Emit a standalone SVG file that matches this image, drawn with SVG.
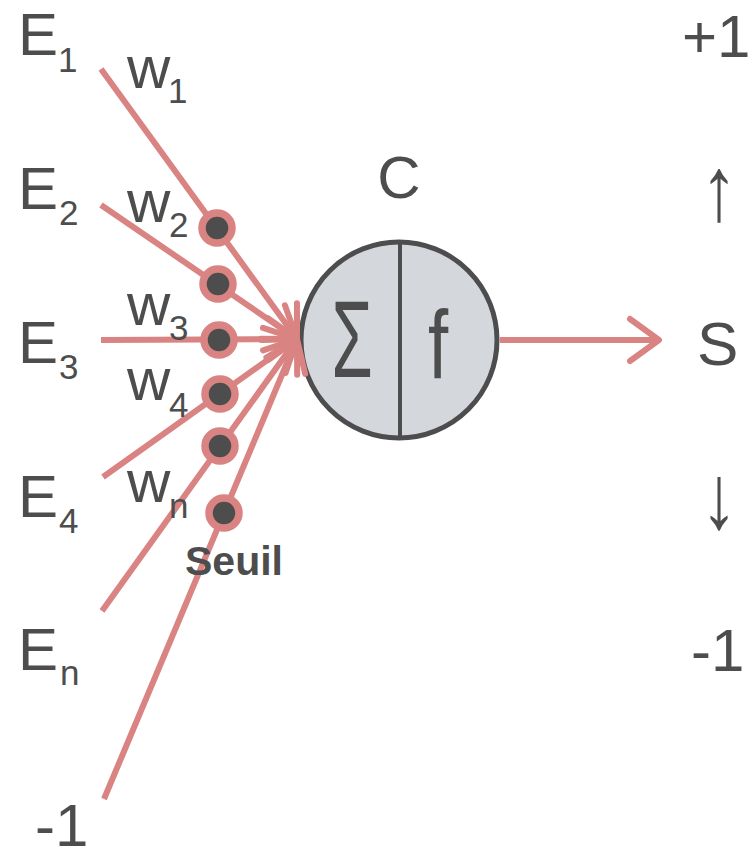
<svg xmlns="http://www.w3.org/2000/svg" width="752" height="851" viewBox="0 0 752 851">
<style>
.t{font-family:"Liberation Sans",Arial,"DejaVu Sans",sans-serif;fill:#4d4d4d}
.big{font-size:60px}
.sub{font-size:35px}
.w{font-size:60px}
.wl{stroke:#d98383;stroke-width:6;fill:none}
.dot{fill:#4d4d4d;stroke:#d98383;stroke-width:7.5}
</style>
<defs>
<marker id="ah" markerUnits="userSpaceOnUse" viewBox="-40 -30 50 60" markerWidth="50" markerHeight="60" refX="0" refY="0" orient="auto">
<path d="M-29,-21 L0,0 L-29,21" fill="none" stroke="#d98383" stroke-width="6" stroke-linecap="round" stroke-linejoin="round"/>
</marker>
</defs>
<rect width="752" height="851" fill="#ffffff"/>

<g id="node-C">
<circle cx="399" cy="340" r="98" fill="#d4d7dc" stroke="#4d4d4d" stroke-width="5"/>
<line x1="400" y1="242" x2="400" y2="438" stroke="#4d4d4d" stroke-width="4"/>
<text class="t" font-size="98" text-anchor="middle" transform="translate(352,377) scale(0.68,1.12)">Σ</text>
<text class="t" font-size="97" text-anchor="middle" transform="translate(438,378) scale(0.75,1)">f</text>
<text class="t big" x="399" y="198" text-anchor="middle">C</text>
</g>

<g id="connectors">
<line class="wl" x1="101" y1="69" x2="297" y2="339" marker-end="url(#ah)"/>
<line class="wl" x1="101" y1="205" x2="297" y2="339" marker-end="url(#ah)"/>
<line class="wl" x1="101" y1="340" x2="297" y2="339" marker-end="url(#ah)"/>
<line class="wl" x1="103" y1="477" x2="297" y2="339" marker-end="url(#ah)"/>
<line class="wl" x1="102" y1="611" x2="297" y2="339" marker-end="url(#ah)"/>
<line class="wl" x1="104" y1="799" x2="297" y2="339" marker-end="url(#ah)"/>
<line class="wl" x1="500" y1="340" x2="659" y2="340" marker-end="url(#ah)"/>
</g>

<g id="weights">
<circle class="dot" cx="217" cy="228" r="15"/>
<circle class="dot" cx="218" cy="284" r="15"/>
<circle class="dot" cx="219" cy="340" r="15"/>
<circle class="dot" cx="220" cy="394" r="15"/>
<circle class="dot" cx="220" cy="446" r="15"/>
<circle class="dot" cx="224" cy="513" r="15"/>
</g>

<g id="node-E1"><text class="t big" x="18" y="55">E</text><text class="t sub" x="58" y="72">1</text></g>
<g id="node-E2"><text class="t big" x="18" y="209">E</text><text class="t sub" x="59" y="225">2</text></g>
<g id="node-E3"><text class="t big" x="18" y="363">E</text><text class="t sub" x="59" y="379">3</text></g>
<g id="node-E4"><text class="t big" x="18" y="517">E</text><text class="t sub" x="59" y="533">4</text></g>
<g id="node-En"><text class="t big" x="18" y="670">E</text><text class="t sub" x="60" y="685">n</text></g>
<g id="node-bias"><text class="t big" x="35" y="846">-1</text></g>

<g id="labels-w">
<text class="t w" x="127" y="88">w</text><text class="t sub" x="168" y="103">1</text>
<text class="t w" x="127" y="222">w</text><text class="t sub" x="169" y="237">2</text>
<text class="t w" x="127" y="325">w</text><text class="t sub" x="169" y="340">3</text>
<text class="t w" x="127" y="400">w</text><text class="t sub" x="169" y="417">4</text>
<text class="t w" x="127" y="502">w</text><text class="t sub" x="169" y="518">n</text>
<text class="t" x="234" y="575" font-size="41" font-weight="bold" text-anchor="middle">Seuil</text>
</g>

<g id="node-S">
<text class="t big" x="682" y="57">+1</text>
<text class="t" font-size="91" text-anchor="middle" transform="translate(719,220) scale(0.8,1)">↑</text>
<text class="t" x="697" y="365" font-size="62">S</text>
<text class="t" font-size="91" text-anchor="middle" transform="translate(719,528) scale(0.8,1)">↓</text>
<text class="t big" x="691" y="671">-1</text>
</g>
</svg>
